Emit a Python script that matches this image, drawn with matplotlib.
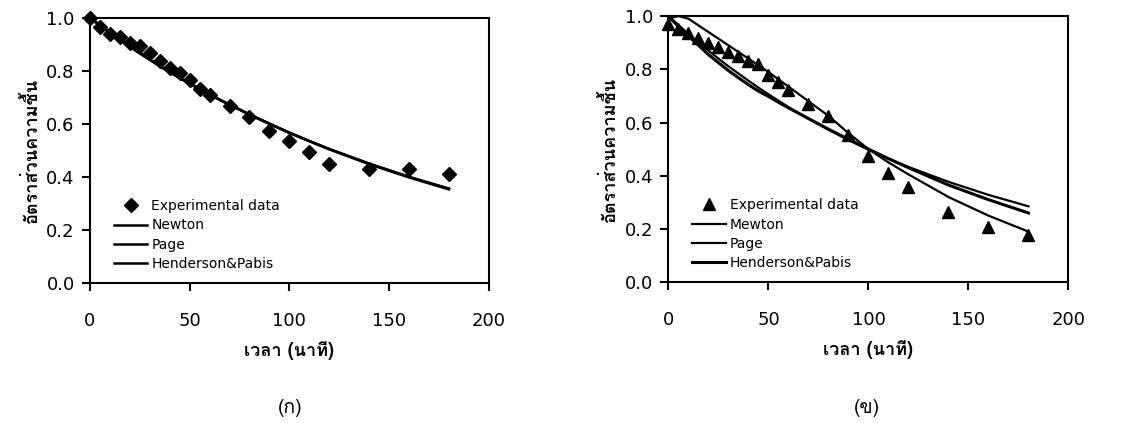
import matplotlib
matplotlib.use("Agg")
import matplotlib.pyplot as plt
from matplotlib import font_manager
from matplotlib.ft2font import FT2Font

# time (min)
t = [0, 5, 10, 15, 20, 25, 30, 35, 40, 45, 50, 55, 60, 70, 80, 90, 100, 110, 120, 140, 160, 180]

# (ก) experimental + models
mr_a = [1.0, 0.965, 0.94, 0.927, 0.906, 0.893, 0.868, 0.836, 0.811, 0.79, 0.767, 0.732,
        0.708, 0.667, 0.626, 0.572, 0.535, 0.493, 0.449, 0.43, 0.428, 0.411]
newton_a = [1.0, 0.972, 0.945, 0.918, 0.892, 0.866, 0.842, 0.818, 0.795, 0.773, 0.752, 0.731,
            0.71, 0.672, 0.635, 0.6, 0.566, 0.535, 0.505, 0.45, 0.4, 0.355]
page_a = [1.0, 0.97, 0.943, 0.917, 0.891, 0.866, 0.842, 0.818, 0.795, 0.773, 0.752, 0.731,
          0.711, 0.673, 0.636, 0.601, 0.567, 0.535, 0.504, 0.448, 0.398, 0.353]
hp_a = [1.0, 0.972, 0.945, 0.918, 0.892, 0.866, 0.842, 0.818, 0.795, 0.773, 0.752, 0.731,
        0.71, 0.672, 0.635, 0.6, 0.566, 0.535, 0.505, 0.45, 0.4, 0.356]

# (ข) experimental + models
mr_b = [0.971, 0.95, 0.938, 0.919, 0.899, 0.884, 0.865, 0.849, 0.831, 0.819, 0.778, 0.752,
        0.721, 0.671, 0.624, 0.552, 0.474, 0.409, 0.356, 0.265, 0.209, 0.178]
newton_b = [1.0, 0.966, 0.933, 0.9, 0.87, 0.84, 0.811, 0.784, 0.757, 0.731, 0.706, 0.682,
            0.658, 0.614, 0.573, 0.534, 0.498, 0.465, 0.433, 0.377, 0.328, 0.285]
page_b = [0.99, 1.0, 0.99, 0.965, 0.94, 0.915, 0.89, 0.865, 0.84, 0.815, 0.79, 0.762,
          0.735, 0.68, 0.625, 0.56, 0.5, 0.45, 0.405, 0.32, 0.25, 0.19]
hp_b = [1.0, 0.96, 0.925, 0.89, 0.855, 0.825, 0.795, 0.768, 0.742, 0.718, 0.698, 0.676,
        0.655, 0.615, 0.575, 0.537, 0.5, 0.464, 0.43, 0.365, 0.31, 0.26]

xticks = [0, 50, 100, 150, 200]
yticks = [0.0, 0.2, 0.4, 0.6, 0.8, 1.0]


def thai_font():
    for f in font_manager.fontManager.ttflist:
        try:
            if ord("อ") in FT2Font(f.fname).get_charmap():
                return f.name
        except Exception:
            pass
    return "DejaVu Sans"


thai = [thai_font(), "DejaVu Sans"]
plt.rcParams["font.family"] = "DejaVu Sans"

fig = plt.figure(figsize=(11.33, 4.23), dpi=100)
ax1 = fig.add_axes([0.0794, 0.331, 0.352, 0.627])
ax2 = fig.add_axes([0.590, 0.333, 0.353, 0.629])


def style(ax):
    ax.set_xlim(0, 200)
    ax.set_ylim(0, 1.0)
    ax.set_xticks(xticks)
    ax.set_yticks(yticks)
    ax.set_yticklabels(["%.1f" % v for v in yticks])
    ax.tick_params(axis="both", direction="out", length=6, width=1.5, labelsize=13)
    ax.tick_params(axis="x", pad=15)
    ax.tick_params(axis="y", pad=5)
    for s in ax.spines.values():
        s.set_linewidth(1.5)
    ax.set_ylabel("อัตราส่วนความชื้น", family=thai, fontsize=13, fontweight="bold", labelpad=4)
    ax.set_xlabel("เวลา (นาที)", family=thai, fontsize=13, fontweight="bold", labelpad=8)


ax1.plot(t, mr_a, "D", color="black", markersize=7, label="Experimental data", clip_on=False)
ax1.plot(t, newton_a, color="black", lw=1.8, label="Newton")
ax1.plot(t, page_a, color="black", lw=1.8, label="Page")
ax1.plot(t, hp_a, color="black", lw=1.8, label="Henderson&Pabis")
style(ax1)

ax2.plot(t, mr_b, "^", color="black", markersize=9, label="Experimental data", clip_on=False)
ax2.plot(t, newton_b, color="black", lw=1.6, label="Mewton")
ax2.plot(t, page_b, color="black", lw=1.6, label="Page")
ax2.plot(t, hp_b, color="black", lw=2.2, label="Henderson&Pabis")
style(ax2)

for ax in (ax1, ax2):
    ax.legend(loc="lower left", bbox_to_anchor=(0.06, 0.045), frameon=False, fontsize=10,
              borderpad=0, borderaxespad=0, labelspacing=0.38, handlelength=2.4,
              handletextpad=0.3)

fig.text(0.256, 0.035, "(ก)", family=thai, fontsize=14, ha="center", va="center")
fig.text(0.765, 0.035, "(ข)", family=thai, fontsize=14, ha="center", va="center")

fig.savefig("out.png", dpi=100)
